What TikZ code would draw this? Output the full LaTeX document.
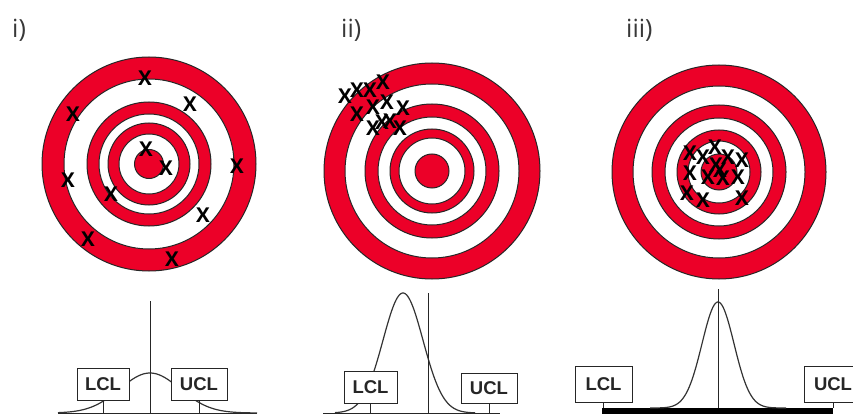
\documentclass[tikz,border=0pt]{standalone}
\usepackage{fontspec}
\newfontfamily\labfont{Open Sans}
\newfontfamily\boxfont{Liberation Sans}
\definecolor{tred}{RGB}{236,0,40}
\tikzset{
  ring/.style={draw=black!85, line width=1pt},
  hit/.style={inner sep=0pt, font=\labfont\bfseries\fontsize{20.5}{20.5}\selectfont, text=black},
  panel/.style={anchor=base west, inner sep=0pt, font=\labfont\fontsize{25}{25}\selectfont, text=black!78},
  limbox/.style={draw=black!85, fill=white, line width=1pt, inner sep=0pt, minimum height=32pt,
     font=\boxfont\bfseries\fontsize{18.5}{18.5}\selectfont, text=black!85},
  bell/.style={draw=black!80, line width=1.2pt},
  thinline/.style={draw=black!85, line width=1pt}
}
\newcommand\drawtarget[2]{\foreach \r/\c in {#2} {\filldraw[ring, fill=\c] (#1) circle ({\r pt});}}
\begin{document}
\begin{tikzpicture}[x=1pt,y=-1pt]
\useasboundingbox (0,0) rectangle (853,414);
\fill[white] (0,0) rectangle (853,414);
% panel labels
\node[panel] (p1) at (12,38) {i)};
\node[panel] (p2) at (341,38) {ii)};
\node[panel] (p3) at (626,38) {iii)};
% targets
\coordinate (t1) at (149,164);
\coordinate (t2) at (432,171);
\coordinate (t3) at (719,172);
\drawtarget{t1}{107/tred,85/white,62/tred,50/white,41/tred,30/white,14.5/tred}
\drawtarget{t2}{108/tred,87/white,67/tred,54/white,42/tred,33/white,17/tred}
\drawtarget{t3}{107/tred,86/white,67/tred,54/white,42/tred,31/white,18/tred}
% hits target i
\foreach \x/\y [count=\i] in {145/78,190/104,73/114,146/149,166/168,237/166,68/180,111/194,203/215,88/239,172/259}
  \node[hit] (a\i) at (\x,\y) {X};
% hits target ii
\foreach \x/\y [count=\i] in {345/96,357/90,370/90,383/82,357/114,373/107,387/102,403/108,373/128,382/122,390/121,400/128}
  \node[hit] (b\i) at (\x,\y) {X};
% hits target iii
\foreach \x/\y [count=\i] in {690/153,703/157,715/147,728/157,742/160,690/173,708/177,720/170,723/178,738/177,687/193,703/200,742/198,716/165}
  \node[hit] (c\i) at (\x,\y) {X};
% ---- plot i
\coordinate (b1l) at (58,413); \coordinate (b1r) at (257,413);
\draw[thinline] (b1l) -- (b1r);
\draw[bell] plot[domain=58:257, samples=120] (\x,{413-40*exp(-((\x-150)^2)/1800)});
\coordinate (m1t) at (150.7,301); \coordinate (m1b) at (150.7,413);
\draw[thinline] (m1t) -- (m1b);
\node[limbox, minimum width=52pt] (lcl1) at (103,384) {LCL};
\node[limbox, minimum width=56pt] (ucl1) at (199,384) {UCL};
\coordinate (k1l) at (103,413); \coordinate (k1r) at (199,413);
\draw[thinline] (lcl1.south) -- (k1l);
\draw[thinline] (ucl1.south) -- (k1r);
% ---- plot ii
\coordinate (b2l) at (323,413); \coordinate (b2r) at (500,413);
\draw[thinline] (b2l) -- (b2r);
\draw[bell] plot[domain=335:475, samples=120] (\x,{413-120*exp(-((\x-403)^2)/800)});
\coordinate (m2t) at (428,293); \coordinate (m2b) at (428,413);
\draw[thinline] (m2t) -- (m2b);
\node[limbox, minimum width=53pt] (lcl2) at (370.5,387) {LCL};
\node[limbox, minimum width=56pt, minimum height=30pt] (ucl2) at (489,388) {UCL};
\coordinate (k2l) at (370.5,413); \coordinate (k2r) at (489,413);
\draw[thinline] (lcl2.south) -- (k2l);
\draw[thinline] (ucl2.south) -- (k2r);
% ---- plot iii
\coordinate (b3l) at (602,411); \coordinate (b3r) at (833,411);
\draw[black, line width=6pt] (b3l) -- (b3r);
\draw[bell] plot[domain=650:786, samples=120] (\x,{408-106*exp(-((\x-718)^2)/512)});
\coordinate (m3t) at (718,289); \coordinate (m3b) at (718,408);
\draw[thinline] (m3t) -- (m3b);
\node[limbox, minimum width=57pt, minimum height=36pt] (lcl3) at (603.5,384) {LCL};
\node[limbox, minimum width=58pt, minimum height=36pt] (ucl3) at (833,384) {UCL};
\coordinate (k3l) at (603.5,408); \coordinate (k3r) at (833,408);
\draw[thinline] (lcl3.south) -- (k3l);
\draw[thinline] (ucl3.south) -- (k3r);
\end{tikzpicture}
\end{document}
